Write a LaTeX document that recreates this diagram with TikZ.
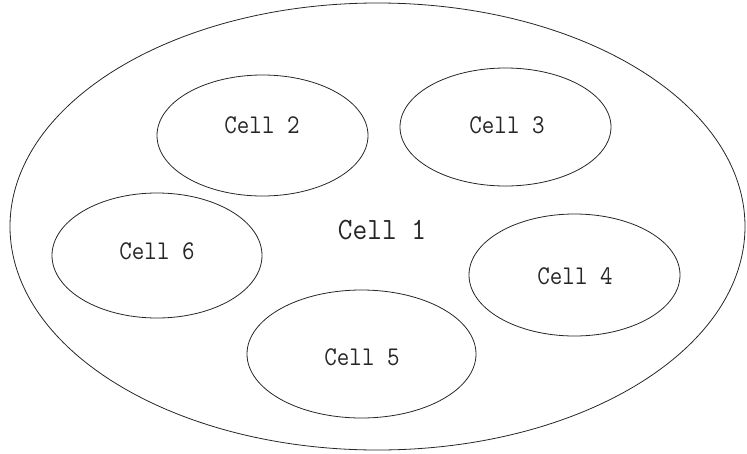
\documentclass[tikz,border=0pt]{standalone}
\usetikzlibrary{shapes.geometric}
\newcommand{\celltext}[1]{\scalebox{0.9}[1]{\ttfamily\fontsize{27}{27}\selectfont #1}}
\newcommand{\celltextbig}[1]{\scalebox{0.92}[1]{\ttfamily\fontsize{31}{31}\selectfont #1}}
\begin{document}
\begin{tikzpicture}[x=1pt,y=-1pt,
  cell/.style={draw=black!85,line width=0.8pt,ellipse,inner sep=0pt},
  lbl/.style={text=black!85,inner sep=0pt}]
\useasboundingbox (0,0) rectangle (747,453);
\node[cell,minimum width=735,minimum height=447] (c1) at (377.5,226.5) {};
\node[lbl] (t1) at (382,230) {\celltextbig{Cell 1}};
\node[cell,minimum width=211,minimum height=121] (c2) at (262.5,135.5) {};
\node[lbl] (t2) at (262,125) {\celltext{Cell 2}};
\node[cell,minimum width=211,minimum height=118] (c3) at (505.5,127) {};
\node[lbl] (t3) at (507,125) {\celltext{Cell 3}};
\node[cell,minimum width=210,minimum height=125] (c6) at (157,255.5) {};
\node[lbl] (t6) at (157,251) {\celltext{Cell 6}};
\node[cell,minimum width=211,minimum height=122] (c4) at (574.5,275) {};
\node[lbl] (t4) at (575,276) {\celltext{Cell 4}};
\node[cell,minimum width=229,minimum height=128] (c5) at (361.5,354) {};
\node[lbl] (t5) at (362,357) {\celltext{Cell 5}};
\end{tikzpicture}
\end{document}
